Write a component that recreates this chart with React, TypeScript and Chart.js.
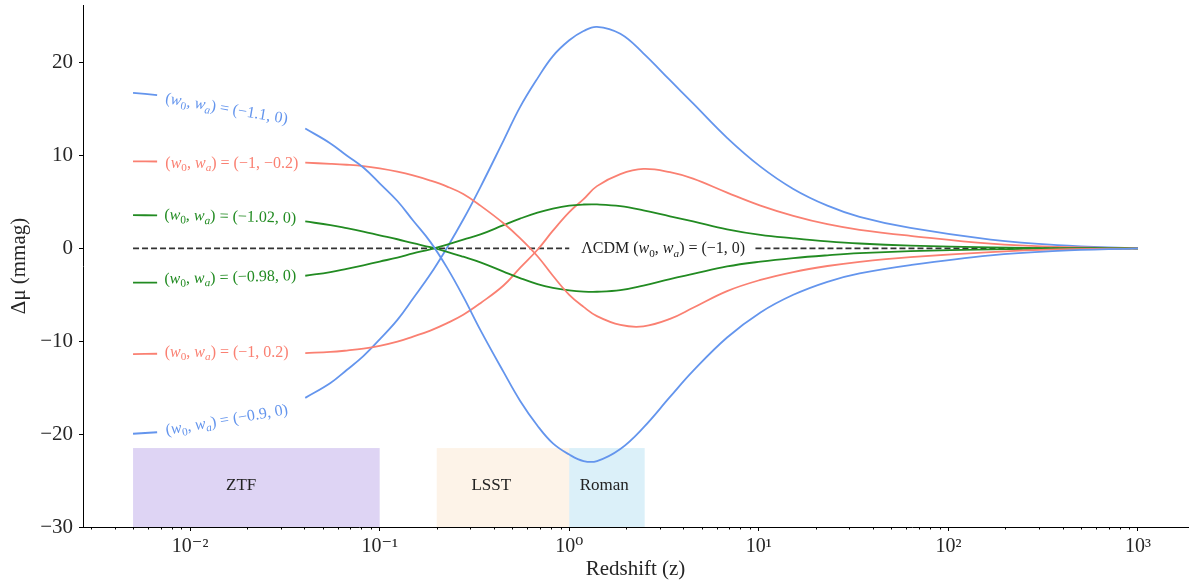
import React, { useEffect, useRef } from 'react';
import { Chart, registerables } from 'chart.js';
Chart.register(...registerables);

const FONT = '"Liberation Serif", "DejaVu Serif", serif';

// Redshift sample grid (z)
const zGrid = [0.005, 0.0067, 0.02, 0.0405, 0.055, 0.067, 0.082, 0.1, 0.124, 0.15, 0.185, 0.227, 0.276, 0.34, 0.45, 0.55, 0.68, 0.82, 1.0, 1.19, 1.4, 1.86, 2.46, 3.4, 4.5, 6.8, 10.2, 15.2, 23, 34, 63, 167, 376, 1000];

// Δμ (mmag) series (null = gap for the inline label)
const blueHi = [16.75, 16.5, null, 12.9, 11.3, 10.0, 8.7, 7.0, 5.1, 3.0, 0.7, -2.1, -5.2, -8.8, -13.3, -16.4, -19.1, -21.0, -22.2, -22.9, -22.9, -21.6, -19.3, -16.0, -13.2, -9.6, -6.9, -5.0, -3.6, -2.7, -1.8, -0.75, -0.28, 0];
const redHi = [9.36, 9.35, null, 9.22, 9.1, 9.0, 8.85, 8.6, 8.25, 7.85, 7.3, 6.65, 5.85, 4.6, 2.7, 1.1, -0.85, -2.95, -5.0, -6.3, -7.3, -8.25, -8.4, -7.6, -6.4, -4.6, -3.4, -2.55, -1.9, -1.45, -0.95, -0.4, -0.12, 0];
const greenHi = [3.58, 3.55, null, 2.9, 2.5, 2.17, 1.8, 1.4, 0.98, 0.55, 0.12, -0.37, -0.9, -1.5, -2.5, -3.2, -3.85, -4.25, -4.52, -4.65, -4.67, -4.5, -4.0, -3.3, -2.75, -1.95, -1.43, -1.05, -0.75, -0.52, -0.3, -0.1, -0.03, 0];
const greenLo = [-3.7, -3.68, null, -2.95, -2.55, -2.2, -1.82, -1.42, -1.0, -0.55, -0.1, 0.4, 0.95, 1.5, 2.5, 3.2, 3.85, 4.28, 4.6, 4.72, 4.73, 4.55, 4.1, 3.45, 2.9, 2.05, 1.45, 1.08, 0.75, 0.52, 0.3, 0.1, 0.03, 0];
const redLo = [-11.38, -11.35, null, -11.27, -11.15, -11.0, -10.8, -10.5, -10.05, -9.5, -8.85, -8.05, -7.15, -5.9, -4.0, -2.1, -0.15, 1.9, 3.9, 5.3, 6.7, 8.0, 8.55, 8.2, 7.5, 6.0, 4.6, 3.5, 2.6, 2.0, 1.35, 0.5, 0.15, 0];
const blueLo = [-19.96, -19.8, null, -16.1, -14.5, -13.1, -11.6, -9.8, -7.7, -5.4, -2.8, 0.1, 3.1, 6.6, 11.6, 15.2, 18.3, 20.7, 22.4, 23.4, 23.85, 23.1, 21.0, 18.1, 15.6, 11.9, 8.8, 6.4, 4.6, 3.4, 2.2, 0.95, 0.35, 0];

// ΛCDM reference line
const lcdmZ = [0.005, 1.0, 3.1, 9.6, 1000];
const lcdmY = [0, 0, null, 0, 0];

// Curve parameters (w0, wa)
const curveParams = ['(−1.1, 0)', '(−1, −0.2)', '(−1.02, 0)', '(−0.98, 0)', '(−1, 0.2)', '(−0.9, 0)'];
const curveSeries = [blueHi, redHi, greenHi, greenLo, redLo, blueLo];
const curveColors = ['#6495ED', '#FA8072', '#228B22', '#228B22', '#FA8072', '#6495ED'];

// Inline label anchors (z, Δμ) and rotation
const labelZ = [0.0156, 0.0166, 0.0163, 0.0163, 0.0156, 0.0156];
const labelY = [15.05, 9.2, 3.45, -3.1, -11.15, -18.45];
const labelAngle = [9.7, 0, 1.5, -1.5, 0, -9.7];
const lcdmLabelZ = 3.13;

// Survey coverage
const surveyNames = ['ZTF', 'LSST', 'Roman'];
const surveyZMin = [0.005, 0.2, 1.0];
const surveyZMax = [0.1, 1.0, 2.5];
const surveyTop = -21.5;
const surveyLabelZ = [0.0186, 0.388, 1.53];
const surveyColors = ['rgba(147,112,219,0.3)', 'rgba(250,220,190,0.35)', 'rgba(135,206,235,0.3)'];

// Axis ticks
const yTicks = [-30, -20, -10, 0, 10, 20];
const xTicks = [0.003, 0.004, 0.005, 0.006, 0.007, 0.008, 0.009,
  0.01, 0.02, 0.03, 0.04, 0.05, 0.06, 0.07, 0.08, 0.09,
  0.1, 0.2, 0.3, 0.4, 0.5, 0.6, 0.7, 0.8, 0.9,
  1, 2, 3, 4, 5, 6, 7, 8, 9,
  10, 20, 30, 40, 50, 60, 70, 80, 90,
  100, 200, 300, 400, 500, 600, 700, 800, 900,
  1000];

const SUP: Record<string, string> = { '-': '⁻', '0': '⁰', '1': '¹', '2': '²', '3': '³' };
const isPow10 = (v: number) => { const e = Math.log10(v); return Math.abs(e - Math.round(e)) < 1e-6; };

type Run = { t: string; it?: boolean; sub?: boolean };
const mathRuns = (prefix: string, params: string): Run[] => [
  { t: prefix + '(' },
  { t: 'w', it: true },
  { t: '0', sub: true },
  { t: ', ' },
  { t: 'w', it: true },
  { t: 'a', it: true, sub: true },
  { t: ') = ' + params },
];

function drawRuns(ctx: CanvasRenderingContext2D, runs: Run[], cx: number, cy: number, angleDeg: number, size: number, color: string) {
  const fontOf = (r: Run) => `${r.it ? 'italic ' : ''}${r.sub ? size * 0.7 : size}px ${FONT}`;
  let total = 0;
  const widths = runs.map((r) => { ctx.font = fontOf(r); const w = ctx.measureText(r.t).width; total += w; return w; });
  ctx.save();
  ctx.translate(cx, cy);
  ctx.rotate((angleDeg * Math.PI) / 180);
  ctx.fillStyle = color;
  ctx.textBaseline = 'alphabetic';
  ctx.textAlign = 'left';
  let x = -total / 2;
  const base = size * 0.3;
  runs.forEach((r, i) => {
    ctx.font = fontOf(r);
    ctx.fillText(r.t, x, base + (r.sub ? size * 0.22 : 0));
    x += widths[i];
  });
  ctx.restore();
}

export default function App() {
  const ref = useRef<HTMLCanvasElement>(null);
  useEffect(() => {
    document.body.style.margin = '0';
    const canvas = ref.current!;
    const curveDatasets = curveSeries.map((s, k) => ({
      label: `(w0, wa) = ${curveParams[k]}`,
      data: zGrid.map((z, i) => ({ x: z, y: s[i] })),
      borderColor: curveColors[k],
      borderWidth: 1.8,
      pointRadius: 0,
      tension: 0.4,
      spanGaps: false,
      fill: false,
    }));
    const lcdmDataset = {
      label: 'ΛCDM',
      data: lcdmZ.map((z, i) => ({ x: z, y: lcdmY[i] })),
      borderColor: '#333333',
      borderWidth: 1.6,
      borderDash: [6, 3],
      pointRadius: 0,
      spanGaps: false,
      fill: false,
    };

    const surveyPlugin = {
      id: 'surveys',
      beforeDatasetsDraw(chart: any) {
        const { ctx } = chart;
        const xs = chart.scales.x, ys = chart.scales.y;
        ctx.save();
        surveyNames.forEach((name, i) => {
          const x0 = xs.getPixelForValue(surveyZMin[i]);
          const x1 = xs.getPixelForValue(surveyZMax[i]);
          const y0 = ys.getPixelForValue(surveyTop);
          const y1 = ys.getPixelForValue(-30);
          ctx.fillStyle = surveyColors[i];
          ctx.fillRect(x0, y0, x1 - x0, y1 - y0);
        });
        surveyNames.forEach((name, i) => {
          ctx.fillStyle = '#222';
          ctx.font = `17px ${FONT}`;
          ctx.textAlign = 'center';
          ctx.textBaseline = 'middle';
          ctx.fillText(name, xs.getPixelForValue(surveyLabelZ[i]), ys.getPixelForValue(-25.5));
        });
        ctx.restore();
      },
    };

    const labelPlugin = {
      id: 'inlineLabels',
      afterDatasetsDraw(chart: any) {
        const { ctx } = chart;
        const xs = chart.scales.x, ys = chart.scales.y;
        curveParams.forEach((p, k) => {
          drawRuns(ctx, mathRuns('', p), xs.getPixelForValue(labelZ[k]), ys.getPixelForValue(labelY[k]), labelAngle[k], 16, curveColors[k]);
        });
        drawRuns(ctx, mathRuns('ΛCDM ', '(−1, 0)'), xs.getPixelForValue(lcdmLabelZ), ys.getPixelForValue(0), 0, 16, '#222');
      },
      afterDraw(chart: any) {
        const { ctx } = chart;
        const xs = chart.scales.x;
        const y0 = chart.chartArea.bottom;
        ctx.save();
        ctx.strokeStyle = '#000';
        ctx.lineWidth = 1;
        xs.ticks.forEach((t: any) => {
          if (t.major) return;
          const px = Math.round(xs.getPixelForValue(t.value)) + 0.5;
          ctx.beginPath();
          ctx.moveTo(px, y0);
          ctx.lineTo(px, y0 + 2.5);
          ctx.stroke();
        });
        ctx.restore();
      },
    };

    const chart = new Chart(canvas, {
      type: 'line',
      data: { datasets: [...curveDatasets, lcdmDataset] as any },
      options: {
        responsive: false,
        animation: false,
        events: [],
        layout: { padding: { top: 5, right: 4, left: 0, bottom: 0 } },
        plugins: { legend: { display: false }, tooltip: { enabled: false } },
        scales: {
          x: {
            type: 'logarithmic',
            min: 0.002723,
            max: 1836,
            afterBuildTicks: (scale: any) => {
              scale.ticks = xTicks.map((v) => ({ value: v, major: isPow10(v) }));
            },
            afterFit: (scale: any) => { scale.height = 60; scale.paddingLeft = 0; scale.paddingRight = 0; },
            ticks: {
              autoSkip: false,
              maxRotation: 0,
              minRotation: 0,
              padding: 4,
              color: '#262626',
              font: { family: FONT, size: 20 },
              callback: (v: any) => {
                const val = Number(v);
                if (!isPow10(val)) return '';
                const e = String(Math.round(Math.log10(val)));
                return '10' + e.split('').map((c) => SUP[c]).join('');
              },
            },
            grid: {
              drawOnChartArea: false,
              drawTicks: true,
              tickLength: 4,
              tickWidth: 1,
              tickColor: (c: any) => (c.tick && c.tick.major ? '#000' : 'rgba(0,0,0,0)'),
            },
            border: { display: true, color: '#000', width: 1 },
            title: {
              display: true,
              text: 'Redshift (z)',
              color: '#262626',
              font: { family: FONT, size: 21 },
              padding: { top: 0, bottom: 5 },
            },
          },
          y: {
            type: 'linear',
            min: -30,
            max: 26.2,
            afterBuildTicks: (scale: any) => {
              scale.ticks = yTicks.map((v) => ({ value: v }));
            },
            afterFit: (scale: any) => { scale.width = 83; scale.paddingTop = 0; scale.paddingBottom = 0; },
            ticks: {
              padding: 6,
              color: '#262626',
              font: { family: FONT, size: 21 },
              callback: (v: any) => (Number(v) < 0 ? '−' + String(-Number(v)) : String(v)),
            },
            grid: {
              drawOnChartArea: false,
              drawTicks: true,
              tickLength: 4,
              tickWidth: 1,
              tickColor: '#000',
            },
            border: { display: true, color: '#000', width: 1 },
            title: {
              display: true,
              text: 'Δμ (mmag)',
              color: '#262626',
              font: { family: FONT, size: 21 },
              padding: { top: 7, bottom: 0 },
            },
          },
        },
      },
      plugins: [surveyPlugin, labelPlugin],
    });
    return () => chart.destroy();
  }, []);
  return (
    <div style={{ position: 'absolute', left: 0, top: 0, width: 1192, height: 587 }}>
      <canvas ref={ref} width={1192} height={587} style={{ display: 'block', width: 1192, height: 587 }} />
    </div>
  );
}
